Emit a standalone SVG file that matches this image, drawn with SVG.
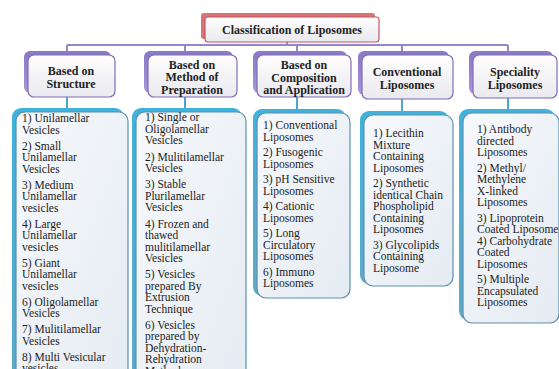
<svg xmlns="http://www.w3.org/2000/svg" width="559" height="369" viewBox="0 0 559 369">
<defs>
<linearGradient id="hg" x1="0" y1="0" x2="0" y2="1"><stop offset="0" stop-color="#ffffff"/><stop offset="1" stop-color="#e9e9ef"/></linearGradient>
<linearGradient id="cg" x1="0" y1="0" x2="1" y2="1"><stop offset="0" stop-color="#f7f9fc"/><stop offset="1" stop-color="#e4ebf2"/></linearGradient>
<linearGradient id="cs" x1="0" y1="0" x2="0" y2="1"><stop offset="0" stop-color="#3fb2dc"/><stop offset="1" stop-color="#5fa9c9"/></linearGradient>
<linearGradient id="ps" x1="0" y1="0" x2="0" y2="1"><stop offset="0" stop-color="#8a78c6"/><stop offset="1" stop-color="#a596d6"/></linearGradient>
</defs>
<style>
.bus{stroke:#9585cc;stroke-width:2;fill:none}
.drop{stroke:#4aa6cc;stroke-width:2;fill:none}
.psh{fill:url(#ps)}
.hb{fill:url(#hg);stroke:#7e6db8;stroke-width:1.2}
.csh{fill:url(#cs)}
.cb{fill:url(#cg);stroke:#5b8fae;stroke-width:1.2}
.ht{font-family:"Liberation Serif","Times New Roman",serif;font-weight:bold;font-size:12px;fill:#222;text-anchor:middle}
.ct{font-family:"Liberation Serif","Times New Roman",serif;font-size:11.5px;fill:#222}
</style>
<rect width="559" height="369" fill="#ffffff"/>
<g id="connectors">
<line class="bus" x1="287" y1="42" x2="287" y2="45"/>
<line class="bus" x1="67" y1="45" x2="508" y2="45"/>
<line class="bus" x1="67" y1="45" x2="67" y2="54"/>
<line class="bus" x1="185" y1="45" x2="185" y2="54"/>
<line class="bus" x1="297" y1="45" x2="297" y2="54"/>
<line class="bus" x1="402" y1="45" x2="402" y2="54"/>
<line class="bus" x1="508" y1="45" x2="508" y2="54"/>
<line class="drop" x1="67" y1="97" x2="67" y2="110"/>
<line class="drop" x1="185" y1="97" x2="185" y2="110"/>
<line class="drop" x1="297" y1="97" x2="297" y2="110"/>
<line class="drop" x1="402" y1="99" x2="402" y2="112"/>
<line class="drop" x1="508" y1="98" x2="508" y2="110"/>
</g>
<g id="title">
<rect x="201" y="13" width="174" height="26" rx="3" fill="#d9737a"/>
<rect x="205" y="17" width="174" height="25" rx="3" fill="url(#hg)" stroke="#c25860" stroke-width="1.2"/>
<text class="ht" x="292" y="34">Classification of Liposomes</text>
</g>
<g id="h1">
<rect class="psh" x="24" y="51" width="87" height="42" rx="6"/>
<rect class="hb" x="28" y="55" width="87" height="42" rx="6"/>
<text class="ht"><tspan x="71" y="74.5">Based on</tspan><tspan x="71" y="87.5">Structure</tspan></text>
</g>
<g id="h2">
<rect class="psh" x="144" y="51" width="89" height="42" rx="6"/>
<rect class="hb" x="148" y="55" width="89" height="42" rx="6"/>
<text class="ht"><tspan x="192" y="68.5">Based on</tspan><tspan x="192" y="81">Method of</tspan><tspan x="192" y="93.5">Preparation</tspan></text>
</g>
<g id="h3">
<rect class="psh" x="253" y="51" width="94" height="42" rx="6"/>
<rect class="hb" x="257" y="55" width="94" height="42" rx="6"/>
<text class="ht"><tspan x="304" y="69">Based on</tspan><tspan x="304" y="81.5">Composition</tspan><tspan x="304" y="94">and Application</tspan></text>
</g>
<g id="h4">
<rect class="psh" x="358" y="51" width="91" height="44" rx="6"/>
<rect class="hb" x="362" y="55" width="91" height="44" rx="6"/>
<text class="ht"><tspan x="407" y="75.5">Conventional</tspan><tspan x="407" y="88.5">Liposomes</tspan></text>
</g>
<g id="h5">
<rect class="psh" x="469" y="51" width="84" height="43" rx="6"/>
<rect class="hb" x="473" y="55" width="84" height="43" rx="6"/>
<text class="ht"><tspan x="515" y="75.5">Speciality</tspan><tspan x="515" y="88.5">Liposomes</tspan></text>
</g>
<g id="c1">
<rect class="csh" x="12" y="108" width="112" height="280" rx="9"/>
<rect class="cb" x="16" y="112" width="112" height="280" rx="9"/>
<text class="ct"><tspan x="22" y="122">1) Unilamellar</tspan><tspan x="22" y="133.5">Vesicles</tspan><tspan x="22" y="149.5">2) Small</tspan><tspan x="22" y="161">Unilamellar</tspan><tspan x="22" y="172.5">Vesicles</tspan><tspan x="22" y="188.5">3) Medium</tspan><tspan x="22" y="200">Unilamellar</tspan><tspan x="22" y="211.5">vesicles</tspan><tspan x="22" y="227.5">4) Large</tspan><tspan x="22" y="239">Unilamellar</tspan><tspan x="22" y="250.5">vesicles</tspan><tspan x="22" y="266.5">5) Giant</tspan><tspan x="22" y="278">Unilamellar</tspan><tspan x="22" y="289.5">vesicles</tspan><tspan x="22" y="305.5">6) Oligolamellar</tspan><tspan x="22" y="317">Vesicles</tspan><tspan x="22" y="333">7) Mulitilamellar</tspan><tspan x="22" y="344.5">Vesicles</tspan><tspan x="22" y="360.5">8) Multi Vesicular</tspan><tspan x="22" y="372">vesicles</tspan></text>
</g>
<g id="c2">
<rect class="csh" x="132" y="108" width="110" height="280" rx="9"/>
<rect class="cb" x="136" y="112" width="110" height="280" rx="9"/>
<text class="ct"><tspan x="145" y="121">1) Single or</tspan><tspan x="145" y="132.5">Oligolamellar</tspan><tspan x="145" y="144">Vesicles</tspan><tspan x="145" y="160.5">2) Mulitilamellar</tspan><tspan x="145" y="172">Vesicles</tspan><tspan x="145" y="188">3) Stable</tspan><tspan x="145" y="199.5">Plurilamellar</tspan><tspan x="145" y="211">Vesicles</tspan><tspan x="145" y="227.5">4) Frozen and</tspan><tspan x="145" y="239">thawed</tspan><tspan x="145" y="250.5">mulitilamellar</tspan><tspan x="145" y="262">Vesicles</tspan><tspan x="145" y="278">5) Vesicles</tspan><tspan x="145" y="289.5">prepared By</tspan><tspan x="145" y="301">Extrusion</tspan><tspan x="145" y="312.5">Technique</tspan><tspan x="145" y="328.5">6) Vesicles</tspan><tspan x="145" y="340">prepared by</tspan><tspan x="145" y="351.5">Dehydration-</tspan><tspan x="145" y="363">Rehydration</tspan><tspan x="145" y="374.5">Method</tspan></text>
</g>
<g id="c3">
<rect class="csh" x="253" y="109" width="93" height="187" rx="9"/>
<rect class="cb" x="257" y="113" width="93" height="185" rx="9"/>
<text class="ct"><tspan x="263" y="129">1) Conventional</tspan><tspan x="263" y="140.5">Liposomes</tspan><tspan x="263" y="156">2) Fusogenic</tspan><tspan x="263" y="167.5">Liposomes</tspan><tspan x="263" y="183">3) pH Sensitive</tspan><tspan x="263" y="194.5">Liposomes</tspan><tspan x="263" y="210">4) Cationic</tspan><tspan x="263" y="221.5">Liposomes</tspan><tspan x="263" y="237">5) Long</tspan><tspan x="263" y="248.5">Circulatory</tspan><tspan x="263" y="260">Liposomes</tspan><tspan x="263" y="275.5">6) Immuno</tspan><tspan x="263" y="287">Liposomes</tspan></text>
</g>
<g id="c4">
<rect class="csh" x="360" y="111" width="89" height="173" rx="9"/>
<rect class="cb" x="364" y="115" width="89" height="171" rx="9"/>
<text class="ct"><tspan x="373" y="137">1) Lecithin</tspan><tspan x="373" y="148.5">Mixture</tspan><tspan x="373" y="160">Containing</tspan><tspan x="373" y="171.5">Liposomes</tspan><tspan x="373" y="187">2) Synthetic</tspan><tspan x="373" y="198.5">identical Chain</tspan><tspan x="373" y="210">Phospholipid</tspan><tspan x="373" y="221.5">Containing</tspan><tspan x="373" y="233">Liposomes</tspan><tspan x="373" y="248.5">3) Glycolipids</tspan><tspan x="373" y="260">Containing</tspan><tspan x="373" y="271.5">Liposome</tspan></text>
</g>
<g id="c5">
<rect class="csh" x="459" y="109" width="96" height="211" rx="9"/>
<rect class="cb" x="463" y="113" width="96" height="210" rx="9"/>
<text class="ct"><tspan x="477" y="133">1) Antibody</tspan><tspan x="477" y="144.5">directed</tspan><tspan x="477" y="156">Liposomes</tspan><tspan x="477" y="171.5">2) Methyl/</tspan><tspan x="477" y="183">Methylene</tspan><tspan x="477" y="194.5">X-linked</tspan><tspan x="477" y="206">Liposomes</tspan><tspan x="477" y="221.5">3) Lipoprotein</tspan><tspan x="477" y="233">Coated Liposome</tspan><tspan x="477" y="244.5">4) Carbohydrate</tspan><tspan x="477" y="256">Coated</tspan><tspan x="477" y="267.5">Liposomes</tspan><tspan x="477" y="283">5) Multiple</tspan><tspan x="477" y="294.5">Encapsulated</tspan><tspan x="477" y="306">Liposomes</tspan></text>
</g>
</svg>
